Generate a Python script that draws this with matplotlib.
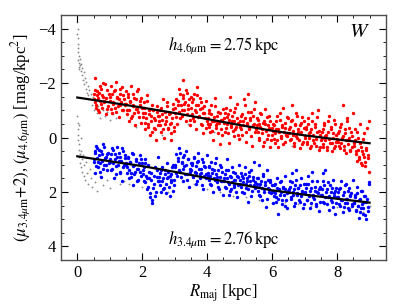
import matplotlib
matplotlib.use("Agg")
import matplotlib.pyplot as plt
from matplotlib.ticker import MultipleLocator

plt.rcParams['font.family'] = 'serif'
plt.rcParams['font.serif'] = ['Liberation Serif', 'DejaVu Serif']
plt.rcParams['mathtext.fontset'] = 'stix'

# radii shared by both bands [kpc]
r_kpc = [
    0.51, 0.53, 0.56, 0.59, 0.62, 0.64, 0.67, 0.7, 0.73, 0.76, 0.8, 0.83, 0.87, 0.9, 0.95,
    1.01, 1.04, 1.06, 1.1, 1.13, 1.17, 1.2, 1.23, 1.27, 1.3, 1.33, 1.37, 1.41, 1.44, 1.48,
    1.52, 1.55, 1.58, 1.61, 1.65, 1.68, 1.71, 1.74, 1.78, 1.81, 1.85, 1.88, 1.92, 1.95, 1.98,
    2.02, 2.05, 2.08, 2.12, 2.15, 2.18, 2.22, 2.25, 2.28, 2.31, 2.35, 2.38, 2.42, 2.45, 2.49,
    2.51, 2.54, 2.57, 2.61, 2.64, 2.67, 2.7, 2.74, 2.77, 2.8, 2.84, 2.87, 2.9, 2.94, 2.97,
    3.01, 3.04, 3.07, 3.11, 3.14, 3.17, 3.21, 3.24, 3.27, 3.3, 3.34, 3.37, 3.41, 3.44, 3.48,
    3.52, 3.55, 3.58, 3.62, 3.65, 3.68, 3.71, 3.75, 3.78, 3.81, 3.85, 3.88, 3.91, 3.95, 3.98,
    4.01, 4.05, 4.08, 4.11, 4.14, 4.18, 4.21, 4.24, 4.28, 4.31, 4.34, 4.38, 4.41, 4.45, 4.48,
    4.51, 4.54, 4.58, 4.61, 4.64, 4.67, 4.71, 4.74, 4.77, 4.81, 4.84, 4.87, 4.91, 4.94, 4.97,
    5.02, 5.05, 5.08, 5.11, 5.15, 5.18, 5.21, 5.25, 5.28, 5.31, 5.35, 5.38, 5.41, 5.44, 5.48,
    5.51, 5.54, 5.58, 5.61, 5.64, 5.68, 5.71, 5.74, 5.77, 5.81, 5.84, 5.88, 5.91, 5.94, 5.98,
    6.01, 6.04, 6.08, 6.11, 6.14, 6.17, 6.21, 6.24, 6.28, 6.31, 6.34, 6.38, 6.41, 6.45, 6.48,
    6.52, 6.55, 6.58, 6.61, 6.65, 6.68, 6.71, 6.74, 6.78, 6.81, 6.85, 6.88, 6.91, 6.95, 6.98,
    7.01, 7.04, 7.08, 7.11, 7.14, 7.18, 7.21, 7.24, 7.27, 7.31, 7.34, 7.38, 7.41, 7.44, 7.48,
    7.51, 7.55, 7.58, 7.61, 7.64, 7.68, 7.71, 7.74, 7.78, 7.81, 7.84, 7.88, 7.91, 7.95, 7.98,
    8.02, 8.05, 8.08, 8.11, 8.15, 8.18, 8.21, 8.24, 8.28, 8.31, 8.35, 8.38, 8.41, 8.45, 8.48,
    8.51, 8.54, 8.58, 8.61, 8.64, 8.67, 8.71, 8.74, 8.77, 8.8, 8.84, 8.87, 8.9, 8.94, 8.97,
    8.99,
    0.52, 0.55, 0.57, 0.6, 0.63, 0.66, 0.69, 0.72, 0.75, 0.78, 0.81, 0.85, 0.88, 0.93, 0.98,
    1.02, 1.05, 1.08, 1.11, 1.15, 1.18, 1.21, 1.25, 1.28, 1.32, 1.35, 1.39, 1.42, 1.46, 1.49,
    1.51, 1.54, 1.57, 1.6, 1.63, 1.66, 1.7, 1.73, 1.76, 1.8, 1.83, 1.86, 1.9, 1.93, 1.97,
    2.01, 2.04, 2.07, 2.1, 2.14, 2.17, 2.2, 2.23, 2.27, 2.3, 2.33, 2.37, 2.4, 2.44, 2.47,
    2.52, 2.55, 2.59, 2.62, 2.65, 2.69, 2.72, 2.75, 2.79, 2.82, 2.85, 2.89, 2.92, 2.95, 2.99,
    3.02, 3.05, 3.09, 3.12, 3.15, 3.19, 3.22, 3.25, 3.29, 3.32, 3.35, 3.39, 3.42, 3.46, 3.49,
    3.51, 3.54, 3.57, 3.6, 3.64, 3.67, 3.7, 3.73, 3.77, 3.8, 3.83, 3.87, 3.9, 3.93, 3.97,
    4.02, 4.04, 4.07, 4.1, 4.13, 4.16, 4.2, 4.23, 4.26, 4.29, 4.33, 4.36, 4.4, 4.43, 4.47,
    4.52, 4.55, 4.57, 4.6, 4.63, 4.66, 4.69, 4.73, 4.76, 4.79, 4.83, 4.86, 4.89, 4.93, 4.96,
    5.01, 5.04, 5.07, 5.1, 5.13, 5.17, 5.2, 5.23, 5.27, 5.3, 5.33, 5.36, 5.4, 5.43, 5.47,
    5.52, 5.55, 5.57, 5.6, 5.63, 5.66, 5.7, 5.73, 5.76, 5.79, 5.83, 5.86, 5.89, 5.93, 5.96,
    6.02, 6.05, 6.07, 6.1, 6.13, 6.16, 6.19, 6.23, 6.26, 6.29, 6.33, 6.36, 6.4, 6.43, 6.47,
    6.51, 6.54, 6.57, 6.6, 6.63, 6.67, 6.7, 6.73, 6.76, 6.8, 6.83, 6.86, 6.9, 6.93, 6.97,
    7.02, 7.05, 7.07, 7.1, 7.13, 7.16, 7.2, 7.23, 7.26, 7.29, 7.33, 7.36, 7.39, 7.43, 7.46,
    7.52, 7.54, 7.57, 7.6, 7.63, 7.66, 7.7, 7.73, 7.76, 7.8, 7.83, 7.86, 7.9, 7.93, 7.97,
    8.01, 8.04, 8.07, 8.1, 8.13, 8.17, 8.2, 8.23, 8.26, 8.3, 8.33, 8.37, 8.4, 8.43, 8.47,
    8.52, 8.55, 8.57, 8.6, 8.63, 8.66, 8.7, 8.73, 8.76, 8.79, 8.82, 8.86, 8.89, 8.92, 8.96,
]

# 4.6 micron surface brightness
mu_46 = [
    -1.6, -1.3, -2.2, -1.1, -1.7, -1.45, -0.95, -1.9, -1.25, -1.55, -2.0, -1.35, -0.85, -1.75, -1.15,
    -1.5, -1.9, -0.9, -1.3, -1.7, -1.1, -2.05, -1.45, -0.75, -1.6, -1.2, -1.85, -1.0, -1.4, -1.25,
    -1.0, -1.6, -0.6, -1.3, -1.9, -0.8, -1.2, -1.45, -0.45, -1.05, -1.7, -0.95, -1.35, -0.55, -1.1,
    -0.9, -1.3, -0.3, -0.7, -1.55, -0.5, -1.0, -0.1, -0.8, -1.2, -0.35, -0.65, 0.1, -0.95, -0.45,
    -0.6, -1.0, -0.2, -0.85, -1.4, 0.0, -0.5, -0.75, -1.15, -0.3, -0.9, 0.1, -0.55, -1.25, -0.4,
    -0.9, -1.4, -0.5, -1.2, -1.8, -0.7, -1.0, -1.55, -2.1, -1.25, -0.6, -1.65, -1.05, -1.4, -0.45,
    -1.3, -0.7, -1.6, -1.0, -0.3, -1.85, -1.2, -0.8, -1.45, -0.5, -1.1, -0.15, -0.9, -1.35, -0.6,
    -0.5, -0.9, -0.2, -1.2, -0.6, 0.1, -0.75, -1.45, -0.35, -0.55, -0.95, 0.25, -0.65, -0.1, -1.05,
    -0.7, -0.2, -1.1, -0.5, -0.85, 0.2, -1.5, -0.4, -0.6, -0.05, -0.95, -0.3, -1.25, -0.55, 0.05,
    -0.4, -0.8, -0.1, -0.6, -1.2, 0.15, -0.5, -1.6, -0.3, -0.7, -0.95, 0.3, -0.45, -1.05, -0.2,
    -0.3, -0.7, 0.1, -0.5, -0.9, -0.15, 0.3, -0.6, -1.05, -0.25, 0.05, -0.45, -0.8, 0.35, -0.35,
    -0.1, -0.5, 0.2, -0.3, -0.8, 0.35, -0.2, -0.65, 0.0, -0.45, -1.1, 0.15, -0.35, -0.05, -0.7,
    -0.3, 0.1, -0.6, -1.2, -0.1, 0.3, -0.45, -0.9, 0.0, -0.2, 0.4, -0.55, -0.75, 0.15, -0.35,
    0.0, -0.4, 0.25, -0.7, -0.15, 0.4, -0.3, -0.9, 0.1, -0.5, 0.3, -0.2, -1.0, 0.45, -0.1,
    0.1, -0.3, 0.35, -0.55, -0.05, 0.45, -0.2, -0.8, 0.2, -0.4, 0.5, 0.0, -0.65, 0.3, -0.1,
    0.15, -0.25, 0.4, -0.5, 0.0, -1.2, 0.3, -0.15, 0.55, -0.7, 0.1, -0.35, 0.45, -0.05, -0.9,
    0.2, -0.3, 0.5, 0.85, 0.0, 0.7, -0.5, 0.35, 1.0, 0.6, -0.15, 0.9, 0.45, 0.75, -0.6,
    1.27,
    -1.4, -1.75, -1.2, -1.55, -1.0, -1.65, -1.35, -1.8, -1.1, -1.5, -1.3, -1.95, -1.45, -1.05, -1.6,
    -1.35, -1.05, -1.6, -1.25, -1.75, -0.95, -1.5, -1.15, -1.4, -1.8, -1.3, -1.0, -1.55, -1.2, -1.7,
    -1.25, -0.85, -1.5, -1.0, -1.35, -0.7, -1.6, -1.15, -0.9, -1.4, -1.05, -1.8, -0.75, -1.2, -1.45,
    -0.75, -1.1, -0.55, -0.9, -1.35, -0.4, -0.85, -1.05, -0.6, -0.2, -1.0, -0.7, -0.3, -1.15, -0.8,
    -0.8, -0.45, -1.1, -0.65, -0.3, -0.95, -0.6, -1.3, -0.35, -0.85, -0.5, -0.15, -0.7, -1.05, -0.25,
    -1.1, -0.75, -1.35, -0.95, -1.6, -1.2, -0.8, -1.45, -1.0, -1.3, -1.75, -0.85, -1.2, -0.65, -1.5,
    -1.1, -0.85, -1.4, -0.6, -1.2, -0.95, -1.55, -0.75, -1.05, -1.3, -0.45, -0.9, -1.15, -0.7, -0.35,
    -0.7, -0.4, -1.0, -0.5, -0.85, -0.25, -0.6, -1.15, -0.45, -0.8, -0.15, -0.55, -0.9, -0.3, -0.65,
    -0.55, -0.9, -0.35, -0.75, -0.15, -0.65, -1.0, -0.45, -0.8, -0.25, -0.6, -1.1, -0.4, -0.7, -0.1,
    -0.6, -0.3, -0.85, -0.45, -1.4, -0.7, -0.2, -0.55, -0.95, -0.35, -0.65, -0.05, -0.8, -0.5, -1.3,
    -0.45, -0.2, -0.65, 0.0, -0.4, -0.85, -0.3, -0.55, 0.15, -0.5, -0.75, -0.1, -0.35, -0.6, 0.1,
    -0.25, 0.05, -0.45, -0.15, -0.6, 0.1, -0.3, -0.9, -0.05, -0.4, 0.25, -0.2, -0.55, -0.1, -0.75,
    -0.15, -0.4, 0.05, -0.65, -0.25, 0.2, -0.5, -0.05, -0.8, -0.3, 0.1, -0.45, -0.2, 0.25, -0.6,
    -0.05, -0.3, 0.15, -0.5, 0.0, -0.2, 0.3, -0.6, -0.1, 0.2, -0.4, 0.05, -0.75, -0.25, 0.35,
    0.0, -0.2, 0.25, -0.45, 0.1, -0.1, 0.35, -0.6, 0.05, -0.3, 0.2, -0.15, 0.4, -0.5, 0.15,
    0.05, -0.15, 0.3, -0.4, 0.2, -0.05, 0.45, -0.3, 0.1, -0.6, 0.25, 0.0, 0.5, -0.2, 0.35,
    0.3, 0.1, 0.6, -0.2, 0.45, 0.8, 0.2, 0.95, 0.5, 0.05, 0.7, 1.05, 0.4, -0.35, 0.65,
]

# 3.4 micron surface brightness (+2 mag)
mu_34 = [
    0.9, 0.5, 1.3, 0.3, 0.75, 1.1, 0.45, 0.95, 1.45, 0.6, 0.25, 1.0, 0.7, 1.2, 0.55,
    0.8, 1.2, 0.4, 0.95, 1.5, 0.6, 1.05, 0.35, 0.85, 1.3, 0.7, 1.6, 0.5, 1.0, 0.75,
    1.1, 0.7, 1.5, 0.9, 1.3, 0.55, 1.75, 1.0, 1.25, 0.8, 1.6, 1.15, 0.65, 1.4, 0.95,
    1.2, 1.6, 0.8, 1.4, 1.9, 1.0, 1.5, 2.2, 1.3, 2.4, 1.7, 1.1, 2.0, 1.45, 0.7,
    1.6, 1.3, 2.0, 1.1, 1.5, 1.85, 1.2, 1.7, 0.95, 1.45, 2.15, 1.35, 1.55, 1.0, 1.75,
    1.1, 0.6, 1.4, 0.85, 0.4, 1.25, 0.95, 1.6, 0.7, 1.05, 0.5, 1.35, 0.8, 1.8, 1.15,
    1.0, 1.4, 0.7, 1.25, 1.7, 0.9, 0.55, 1.15, 1.5, 1.3, 0.8, 1.9, 1.05, 1.35, 0.65,
    1.4, 1.1, 1.7, 0.9, 1.3, 2.0, 1.2, 1.55, 0.75, 1.45, 1.8, 1.0, 1.6, 1.25, 2.1,
    1.5, 1.8, 1.2, 0.8, 1.65, 2.1, 1.4, 1.9, 1.1, 1.55, 1.75, 1.3, 2.2, 1.45, 1.0,
    1.7, 1.3, 2.0, 1.5, 1.1, 1.85, 1.6, 2.35, 1.4, 1.75, 1.2, 1.95, 1.55, 0.9, 1.65,
    1.8, 1.5, 2.1, 1.0, 1.7, 2.3, 1.4, 1.9, 1.65, 2.55, 1.2, 1.85, 2.0, 1.55, 1.75,
    2.0, 2.4, 1.7, 2.2, 1.5, 2.8, 1.9, 2.1, 1.6, 2.3, 1.85, 2.5, 1.4, 2.05, 1.95,
    1.9, 1.6, 2.2, 1.3, 2.0, 2.5, 1.75, 1.2, 2.1, 1.85, 2.35, 1.5, 2.0, 2.6, 1.7,
    2.0, 1.7, 2.3, 1.4, 2.1, 2.6, 1.85, 1.25, 2.2, 1.95, 2.45, 1.6, 2.05, 2.7, 1.8,
    2.1, 1.3, 1.6, 2.4, 1.2, 1.9, 2.2, 2.65, 1.75, 2.0, 2.35, 1.55, 2.15, 2.8, 1.85,
    2.2, 1.9, 2.5, 1.6, 2.3, 2.75, 2.0, 2.4, 1.7, 2.25, 2.6, 1.85, 2.1, 2.45, 1.55,
    2.4, 2.1, 2.7, 1.8, 2.5, 2.95, 2.25, 2.6, 1.95, 2.8, 2.35, 2.15, 3.0, 2.55, 1.7,
    1.65,
    0.8, 0.55, 1.05, 0.4, 0.9, 0.65, 1.25, 0.5, 0.85, 1.15, 0.35, 0.75, 1.0, 0.6, 0.95,
    0.9, 0.6, 1.15, 0.45, 0.8, 1.35, 0.7, 1.0, 0.55, 1.25, 0.85, 0.4, 1.1, 0.65, 0.95,
    1.0, 1.3, 0.75, 1.2, 0.9, 1.45, 1.05, 0.6, 1.35, 0.85, 1.15, 1.55, 0.95, 1.25, 0.8,
    1.35, 1.1, 1.65, 0.95, 1.5, 1.8, 1.25, 2.05, 1.55, 2.3, 1.85, 1.4, 2.15, 1.2, 1.6,
    1.45, 1.75, 1.2, 1.6, 1.9, 1.35, 2.05, 1.5, 1.25, 1.8, 1.4, 1.65, 1.1, 1.95, 1.55,
    1.0, 1.3, 0.75, 1.2, 0.55, 1.45, 0.9, 1.15, 0.65, 1.35, 1.0, 1.55, 0.8, 1.25, 0.95,
    1.2, 0.95, 1.45, 0.75, 1.3, 1.05, 1.6, 0.85, 1.35, 1.15, 1.75, 0.9, 1.4, 1.1, 1.5,
    1.3, 1.55, 1.05, 1.4, 1.75, 1.15, 1.5, 0.95, 1.35, 1.65, 1.2, 1.9, 1.45, 1.1, 1.6,
    1.6, 1.35, 1.85, 1.5, 1.2, 1.7, 1.95, 1.45, 1.65, 1.25, 1.8, 1.55, 2.0, 1.4, 1.75,
    1.55, 1.8, 1.4, 1.65, 2.05, 1.35, 1.7, 1.5, 1.9, 1.25, 1.6, 2.15, 1.45, 1.75, 1.85,
    1.7, 1.95, 1.5, 1.8, 2.15, 1.6, 1.85, 1.35, 2.0, 1.75, 2.25, 1.55, 1.9, 1.65, 2.05,
    1.95, 2.15, 1.75, 2.05, 2.35, 1.85, 2.25, 1.65, 2.0, 2.45, 1.8, 2.1, 1.9, 2.3, 2.6,
    2.0, 1.8, 2.25, 1.65, 2.1, 1.9, 2.4, 1.55, 2.05, 1.85, 2.3, 1.75, 2.15, 1.95, 2.45,
    2.05, 1.85, 2.3, 1.7, 2.15, 1.95, 2.4, 1.6, 2.1, 2.25, 1.8, 2.5, 2.0, 1.9, 2.35,
    2.1, 1.9, 2.35, 1.75, 2.2, 2.0, 2.45, 1.65, 2.15, 2.3, 1.85, 2.55, 2.05, 1.95, 2.4,
    2.2, 2.0, 2.45, 1.85, 2.3, 2.1, 2.55, 1.75, 2.25, 2.4, 1.95, 2.65, 2.15, 2.05, 2.5,
    2.4, 2.2, 2.65, 2.05, 2.5, 2.3, 2.75, 1.95, 2.45, 2.6, 2.15, 2.85, 2.35, 2.25, 2.7,
]

# points excluded from the fits (grey)
gray_r = [
    0.0, 0.01, 0.0, 0.02, 0.01, 0.03, 0.02, 0.04, 0.03, 0.05, 0.06, 0.04, 0.07, 0.08,
    0.1, 0.12, 0.14, 0.16, 0.18, 0.2, 0.22, 0.24, 0.26, 0.28, 0.3, 0.32, 0.34, 0.36,
    0.38, 0.42, 0.45, 0.48, 0.5, 0.55, 0.6, 0.65, 0.7, 0.78, 0.85, 0.92, 1.0, 1.1,
    0.0, 0.01, 0.02, 0.03, 0.02, 0.04, 0.05, 0.06, 0.08, 0.1,
    0.06, 0.08, 0.1, 0.12, 0.14, 0.16, 0.18, 0.2, 0.22, 0.25, 0.28, 0.3, 0.34, 0.38,
    0.42, 0.46, 0.5, 0.56, 0.62, 0.7, 0.8, 0.9, 1.0, 1.15, 1.3, 1.45,
    1.6, 2.0, 2.4, 2.8, 3.2, 3.6, 4.0, 4.4, 4.8, 5.2, 5.6, 6.0, 6.4, 6.8, 7.2, 7.6, 8.0, 8.4, 8.8, 9.0,
    1.2, 1.8, 2.6, 3.4, 4.2, 5.0, 5.8, 6.6, 7.4, 8.2,
]
gray_mu = [
    -4.25, -4.0, -3.8, -3.65, -3.45, -3.3, -3.15, -3.0, -2.85, -2.75, -2.6, -2.5, -2.9, -2.65,
    -2.45, -2.7, -2.3, -2.55, -2.1, -2.4, -1.95, -2.2, -1.8, -2.05, -1.65, -1.9, -1.55, -1.75,
    -1.4, -1.6, -1.2, -1.5, -1.0, -1.3, -0.9, -1.15, -0.7, -1.0, -0.8, -0.95, -0.65, -0.85,
    -0.8, -0.55, -0.3, -0.1, 0.1, 0.25, 0.45, -0.45, 0.6, 0.0,
    0.7, 0.95, 0.5, 1.1, 0.8, 1.25, 0.65, 1.4, 1.0, 1.55, 0.9, 1.3, 1.7, 1.15,
    1.5, 1.8, 1.3, 1.65, 1.95, 1.4, 1.75, 1.55, 1.85, 1.45, 1.7, 1.6,
    1.7, 1.8, 2.1, 2.0, 1.5, 1.7, 1.9, 2.0, 2.15, 2.2, 2.3, 2.4, 2.35, 2.45, 2.5, 2.4, 2.55, 2.6, 2.75, 2.5,
    -0.7, -0.4, -0.1, -0.5, -0.2, 0.0, 0.1, 0.3, 0.35, 0.4,
]

# exponential-disc fits
fit_r = [0, 1, 2, 3, 4, 5, 6, 7, 8, 9]
fit_46 = [-1.47, -1.29, -1.10, -0.90, -0.68, -0.46, -0.25, -0.08, 0.07, 0.21]
fit_34 = [0.69, 0.87, 1.05, 1.26, 1.49, 1.72, 1.94, 2.10, 2.25, 2.39]

fig = plt.figure(figsize=(4.07, 3.07), dpi=100)
ax = fig.add_axes([0.150, 0.153, 0.798, 0.798])

ax.scatter(gray_r, gray_mu, s=1.8, color='0.55', lw=0, zorder=1)
ax.scatter(r_kpc, mu_46, s=6, color='red', lw=0, zorder=2)
ax.scatter(r_kpc, mu_34, s=6, color='blue', lw=0, zorder=2)
ax.plot(fit_r, fit_46, color='black', lw=1.6, zorder=3)
ax.plot(fit_r, fit_34, color='black', lw=1.6, zorder=3)

ax.text(2.8, -3.37, r'$h_{4.6\mu\mathrm{m}} = 2.75\,\mathrm{kpc}$', fontsize=12, va='center')
ax.text(2.8, 3.77, r'$h_{3.4\mu\mathrm{m}} = 2.76\,\mathrm{kpc}$', fontsize=12, va='center')
ax.text(0.95, 0.93, r'$W$', transform=ax.transAxes, fontsize=15, ha='right', va='center')

ax.set_xlim(-0.5, 9.5)
ax.set_ylim(4.5, -4.5)
ax.xaxis.set_major_locator(MultipleLocator(2))
ax.xaxis.set_minor_locator(MultipleLocator(0.5))
ax.yaxis.set_major_locator(MultipleLocator(2))
ax.yaxis.set_minor_locator(MultipleLocator(0.5))
ax.tick_params(which='both', direction='in', top=True, right=True, labelsize=12)
ax.tick_params(which='major', length=5)
ax.tick_params(which='minor', length=2.5)
for sp in ax.spines.values():
    sp.set_linewidth(1.0)
    sp.set_color('0.3')

ax.set_xlabel(r'$R_{\mathrm{maj}}$ [kpc]', fontsize=12, labelpad=1)
ax.set_ylabel(r'$(\mu_{3.4\mu\mathrm{m}}{+}2)$, $(\mu_{4.6\mu\mathrm{m}})$ [mag/kpc$^2$]', fontsize=12)

fig.savefig("out.png", dpi=100)
